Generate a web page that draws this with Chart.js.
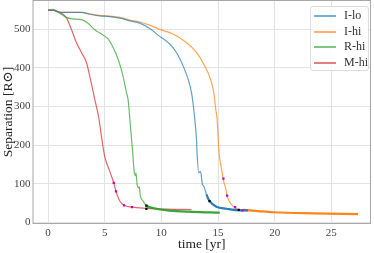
<!DOCTYPE html>
<html>
<head>
<meta charset="utf-8">
<script src="https://cdn.jsdelivr.net/npm/chart.js@4"></script>
<style>
    html, body { margin: 0; padding: 0; background: #ffffff; }
    #wrap { position: relative; width: 374px; height: 253px; }
    #legend {
        position: absolute; left: 310px; top: 6px; width: 57px; height: 63px;
        border: 1px solid #dcdcdc; border-radius: 3px; background: rgba(255,255,255,0.85);
        font-family: "Liberation Serif", serif; font-size: 12px; color: #333;
    }
    .ln { position: absolute; left: 3px; width: 22px; height: 2px; }
    .tx { position: absolute; left: 33px; height: 14px; line-height: 14px; white-space: nowrap; }
</style>
</head>
<body>
<div id="wrap">
    <canvas id="sepChart" width="374" height="253"></canvas>
    <div id="legend"></div>
</div>
<script>
// ======================================================
// DATA
// ======================================================

const seriesNames = ["I-lo", "I-hi", "R-hi", "M-hi"];

const iloX = [0,0.5,1.03,2.2,2.95,3.68,4.53,5.45,6.33,7.21,8.09,8.98,9.8,10.74,11.33,11.92,12.36,12.66,12.86,12.95,13.1,13.15,13.3,13.45,13.63,13.74,13.98,14.23,14.86,15.75,16.92,17.65];
const iloY = [550,549,544,544,544,539,535,533,529,522,516,502,483,462,440,405,371,336,293,267,215,180,128,132,98,94,72,56,40,35,31,31];

const ihiX = [0,0.5,1.03,2.2,2.95,3.68,4.53,5.45,6.33,7.21,8.1,8.98,9.86,11.03,12.21,13.1,13.83,14.33,14.63,14.8,14.92,15.09,15.3,15.45,15.6,15.68,15.8,16.18,16.48,16.83,17.2,18.5,19.86,23.4,27.36];
const ihiY = [550,549,544,544,544,540,536,534,531,524,519,511,500,488,466,440,405,371,336,293,267,180,140,113,95,88,68,46,39,33,32,29,26,23,21];

const rhiX = [0,0.44,1.03,1.62,2.2,2.95,3.53,4.12,4.71,5.3,5.74,6.18,6.62,6.92,7.06,7.15,7.27,7.45,7.6,7.71,7.76,7.86,8.0,8.05,8.15,8.39,8.68,9.27,10.7,12.8,15.15];
const rhiY = [550,552,542,531,527,525,516,499,488,475,453,423,379,336,319,293,249,189,132,121,128,98,89,92,68,55,43,37,30,27,25];

const mhiX = [0,0.5,1.0,1.6,2.06,2.5,2.95,3.39,3.74,4.12,4.5,4.71,5.0,5.45,5.8,6.0,6.33,6.71,7.41,8.68,10.5,12.66];
const mhiY = [550,549,545,531,500,466,440,414,371,319,267,223,171,132,102,80,55,44,39,36,34,33];

// event markers
const magentaX = [5.8,6.0,6.71,7.41,15.48,15.8,16.5,17.16];
const magentaY = [102,80,44,39,113,69,39,31];
const blackX = [8.68,8.68,14.25,16.83];
const blackY = [43,35,55,32];

const xTicks = [0,5,10,15,20,25];
const yTicks = [0,100,200,300,400,500];

// ======================================================
// STYLE
// ======================================================

const lineColors = ["31,119,180", "255,127,14", "44,160,44", "214,39,40"];
const tailFrom = [13.9, 17.0, 8.4, 99];

const serif = "'Liberation Serif', 'DejaVu Serif', serif";

function toPoints(xs, ys) {
    return xs.map((x, i) => ({ x: x, y: ys[i] }));
}

const seriesX = [iloX, ihiX, rhiX, mhiX];
const seriesY = [iloY, ihiY, rhiY, mhiY];

const lineSets = seriesNames.map((name, i) => ({
    label: name,
    data: toPoints(seriesX[i], seriesY[i]),
    borderColor: "rgba(" + lineColors[i] + ",0.7)",
    borderWidth: 1.2,
    pointRadius: 0,
    cubicInterpolationMode: "monotone",
    segment: {
        borderWidth: ctx => ctx.p0.parsed.x >= tailFrom[i] ? 2.2 : 1.2,
        borderColor: ctx => ctx.p0.parsed.x >= tailFrom[i] ?
            "rgba(" + lineColors[i] + ",0.95)" : "rgba(" + lineColors[i] + ",0.7)"
    },
    order: 2
}));

const markerSets = [
    {
        label: "m",
        data: toPoints(magentaX, magentaY),
        showLine: false,
        pointStyle: "rect",
        pointRadius: 1.6,
        backgroundColor: "#c000c0",
        borderColor: "#c000c0",
        borderWidth: 0,
        order: 1
    },
    {
        label: "k",
        data: toPoints(blackX, blackY),
        showLine: false,
        pointStyle: "rect",
        pointRadius: 1.6,
        backgroundColor: "#000000",
        borderColor: "#000000",
        borderWidth: 0,
        order: 0
    }
];

// ======================================================
// FRAME PLUGIN
// ======================================================

const framePlugin = {
    id: "frame",
    afterDraw(chart) {
        const a = chart.chartArea;
        const c = chart.ctx;
        c.save();
        c.strokeStyle = "#a8a8a8";
        c.lineWidth = 1;
        c.strokeRect(a.left + 0.5, a.top + 0.5, a.right - a.left - 1, a.bottom - a.top - 1);
        c.restore();
    }
};

// ======================================================
// CHART
// ======================================================

new Chart(document.getElementById("sepChart"), {
    type: "line",
    data: { datasets: lineSets.concat(markerSets) },
    plugins: [framePlugin],
    options: {
        responsive: false,
        animation: false,
        layout: { autoPadding: false, padding: { top: 0, right: 3, left: 0, bottom: 0 } },
        plugins: {
            legend: { display: false },
            tooltip: { enabled: false }
        },
        scales: {
            x: {
                type: "linear",
                min: -1.37,
                max: 28.5,
                afterBuildTicks: s => { s.ticks = xTicks.map(v => ({ value: v })); },
                afterFit: s => { s.height = 29; s.paddingLeft = 0; s.paddingRight = 0; },
                grid: { color: "#e3e3e3", drawTicks: false },
                border: { display: false },
                ticks: {
                    color: "#444",
                    font: { family: serif, size: 11 },
                    padding: 3,
                    maxRotation: 0
                },
                title: {
                    display: true,
                    text: "time [yr]",
                    color: "#222",
                    font: { family: serif, size: 13.5 },
                    padding: { top: 0, bottom: 0 }
                }
            },
            y: {
                type: "linear",
                min: -4.5,
                max: 576,
                afterBuildTicks: s => { s.ticks = yTicks.map(v => ({ value: v })); },
                afterFit: s => { s.width = 32.5; s.paddingTop = 0; s.paddingBottom = 0; },
                grid: { color: "#e3e3e3", drawTicks: false },
                border: { display: false },
                ticks: {
                    color: "#444",
                    font: { family: serif, size: 11 },
                    padding: 2
                },
                title: {
                    display: true,
                    text: "Separation [R\u2299]",
                    color: "#222",
                    font: { family: serif, size: 13.5 },
                    padding: { top: 0, bottom: 0 }
                }
            }
        }
    }
});

// ======================================================
// LEGEND
// ======================================================

const legendBox = document.getElementById("legend");
seriesNames.forEach((name, i) => {
    const top = Math.round(1 + i * 15.5);
    const ln = document.createElement("div");
    ln.className = "ln";
    ln.style.top = (top + 7) + "px";
    ln.style.background = "rgba(" + lineColors[i] + ",0.6)";
    const tx = document.createElement("div");
    tx.className = "tx";
    tx.style.top = top + "px";
    tx.textContent = name;
    legendBox.appendChild(ln);
    legendBox.appendChild(tx);
});
</script>
</body>
</html>
